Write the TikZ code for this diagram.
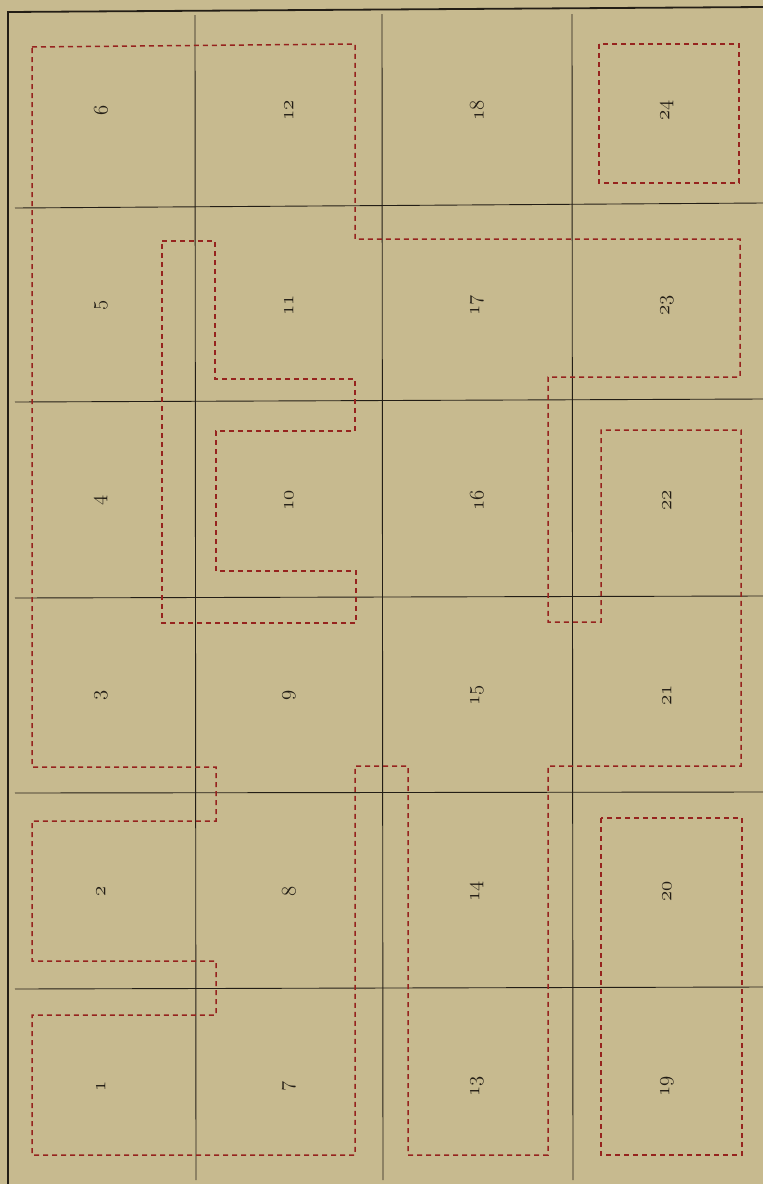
\documentclass[tikz,border=0pt]{standalone}
\usepackage{tikz}
\definecolor{paper}{RGB}{199,186,143}
\definecolor{ink}{RGB}{35,30,22}
\definecolor{redink}{RGB}{150,35,30}
\tikzset{
  gridline/.style={draw=ink, line width=0.9pt},
  frameline/.style={draw=ink, line width=1.8pt},
  cutline/.style={draw=redink, line width=1.5pt, dash pattern=on 5pt off 4pt},
  num/.style={rotate=90, font=\fontsize{20.74}{21}\usefont{OML}{cmm}{m}{it}, text=ink, inner sep=0pt},
}
\begin{document}
\begin{tikzpicture}[x=1pt,y=-1pt]
\fill[paper] (0,0) rectangle (763,1184);
\useasboundingbox (0,0) rectangle (763,1184);
% frame
\draw[frameline] (8,1184) -- (8,12) -- (763,7);
% grid
\draw[gridline] (195,15) -- (196,1180);
\draw[gridline] (382,14) -- (383,1180);
\draw[gridline] (572,14) -- (573,1180);
\draw[gridline] (15,208) -- (763,203);
\draw[gridline] (15,402) -- (763,399);
\draw[gridline] (15,598) -- (763,596);
\draw[gridline] (15,793) -- (763,792);
\draw[gridline] (15,989) -- (763,987);
% numbers
\foreach \c/\cx in {0/101,1/289,2/477,3/667}{
  \foreach \r/\cy in {1/1086,2/891,3/695,4/500,5/305,6/110}{
    \pgfmathtruncatemacro{\k}{\c*6+\r}
    \node[num] (n\k) at (\cx,\cy) {\k};
  }
}
% dashed outlines
\draw[cutline] (32,47) -- (355,44) -- (355,239) -- (740,239) -- (740,377) -- (548,377)
  -- (548,622) -- (601,622) -- (601,430) -- (741,430) -- (741,766) -- (548,766)
  -- (548,1155) -- (408,1155) -- (408,766) -- (355,766) -- (355,1155) -- (32,1155)
  -- (32,1015) -- (216,1015) -- (216,961) -- (32,961) -- (32,821) -- (216,821)
  -- (216,767) -- (32,767) -- cycle;
\draw[cutline] (162,241) -- (215,241) -- (215,379) -- (355,379) -- (355,431) -- (216,431)
  -- (216,571) -- (356,571) -- (356,623) -- (162,623) -- cycle;
\draw[cutline] (599,44) rectangle (739,183);
\draw[cutline] (601,818) rectangle (742,1155);
\end{tikzpicture}
\end{document}
